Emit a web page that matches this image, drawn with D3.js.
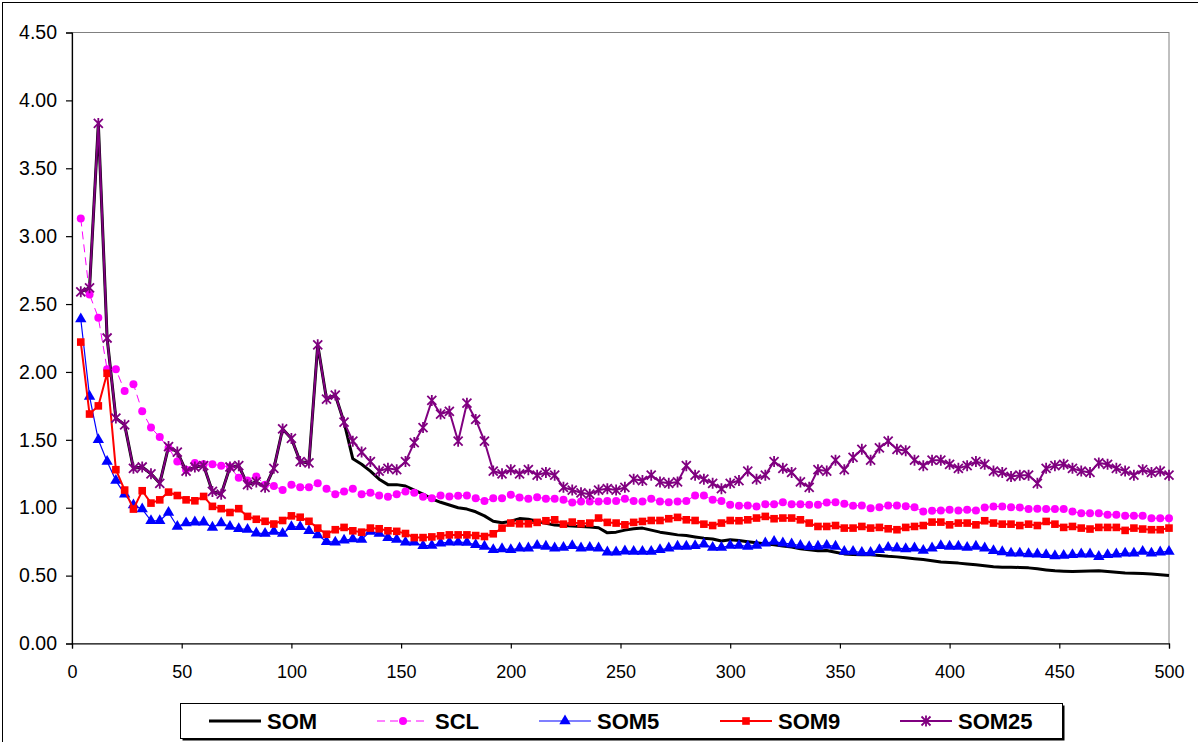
<!DOCTYPE html>
<html>
<head>
<meta charset="utf-8">
<script src="https://cdn.jsdelivr.net/npm/d3@7/dist/d3.min.js"></script>
<style>
  html, body { margin: 0; padding: 0; background: #fff; }
  svg { display: block; font-family: "Liberation Sans", Arial, sans-serif; }
</style>
</head>
<body>
<svg id="chart" width="1198" height="742"></svg>
<script>
"use strict";

// ---------------------------------------------------------------------------
// Error per iteration for five map variants. One sample every 4 iterations,
// x runs 4..500. Values.
// ---------------------------------------------------------------------------

const iterations = d3.range(4, 501, 4);

const som = [
  2.59, 2.62, 3.83, 2.25, 1.66, 1.61, 1.29, 1.30, 1.25, 1.18,
  1.45, 1.41, 1.27, 1.30, 1.31, 1.12, 1.10, 1.30, 1.31, 1.17,
  1.19, 1.15, 1.29, 1.58, 1.51, 1.34, 1.33, 2.20, 1.80, 1.83,
  1.63, 1.36, 1.32, 1.27, 1.21, 1.17, 1.17, 1.16, 1.13, 1.10,
  1.065, 1.04, 1.02, 1.00, 0.99, 0.97, 0.94, 0.90, 0.89, 0.90,
  0.92, 0.915, 0.90, 0.885, 0.872, 0.869, 0.865, 0.862, 0.858, 0.852,
  0.815, 0.82, 0.835, 0.845, 0.85, 0.835, 0.82, 0.81, 0.80, 0.795,
  0.785, 0.776, 0.77, 0.755, 0.764, 0.759, 0.75, 0.742, 0.734, 0.728,
  0.718, 0.71, 0.698, 0.69, 0.683, 0.685, 0.672, 0.66, 0.655, 0.653,
  0.653, 0.648, 0.642, 0.638, 0.632, 0.625, 0.618, 0.61, 0.60, 0.596,
  0.592, 0.586, 0.58, 0.573, 0.566, 0.562, 0.562, 0.56, 0.557, 0.55,
  0.542, 0.535, 0.532, 0.53, 0.532, 0.534, 0.535, 0.53, 0.525, 0.52,
  0.518, 0.516, 0.512, 0.506, 0.50,
];

const scl = [
  3.13, 2.57, 2.40, 2.02, 2.02, 1.86, 1.91, 1.71, 1.59, 1.52,
  1.44, 1.34, 1.28, 1.33, 1.32, 1.32, 1.31, 1.30, 1.22, 1.20,
  1.23, 1.17, 1.16, 1.13, 1.17, 1.15, 1.15, 1.18, 1.14, 1.10,
  1.12, 1.14, 1.10, 1.11, 1.09, 1.08, 1.10, 1.12, 1.11, 1.08,
  1.07, 1.09, 1.083, 1.088, 1.09, 1.07, 1.05, 1.07, 1.07, 1.095,
  1.076, 1.066, 1.078, 1.066, 1.066, 1.058, 1.038, 1.046, 1.046, 1.046,
  1.05, 1.05, 1.066, 1.05, 1.046, 1.066, 1.046, 1.041, 1.046, 1.05,
  1.09, 1.09, 1.058, 1.05, 1.021, 1.014, 1.016, 1.009, 1.026, 1.026,
  1.041, 1.026, 1.026, 1.021, 1.021, 1.038, 1.041, 1.029, 1.014, 1.016,
  0.997, 1.004, 1.016, 1.016, 1.011, 1.004, 0.972, 0.977, 0.98, 0.985,
  0.98, 0.985, 0.98, 1.002, 1.009, 1.009, 1.004, 1.002, 0.99, 0.992,
  0.99, 0.99, 0.99, 0.972, 0.96, 0.96, 0.96, 0.948, 0.948, 0.94,
  0.94, 0.94, 0.923, 0.923, 0.923,
];

const som5 = [
  2.39, 1.82, 1.50, 1.34, 1.20, 1.10, 1.02, 0.99, 0.904, 0.904,
  0.965, 0.862, 0.887, 0.894, 0.894, 0.855, 0.887, 0.862, 0.845, 0.84,
  0.813, 0.81, 0.826, 0.81, 0.86, 0.86, 0.83, 0.80, 0.75, 0.746,
  0.76, 0.77, 0.766, 0.826, 0.81, 0.78, 0.766, 0.746, 0.746, 0.72,
  0.722, 0.739, 0.746, 0.746, 0.744, 0.727, 0.715, 0.69, 0.697, 0.69,
  0.702, 0.702, 0.722, 0.715, 0.702, 0.707, 0.72, 0.702, 0.707, 0.702,
  0.673, 0.673, 0.68, 0.678, 0.678, 0.678, 0.69, 0.702, 0.715, 0.715,
  0.72, 0.732, 0.707, 0.707, 0.722, 0.722, 0.715, 0.722, 0.739, 0.751,
  0.739, 0.732, 0.722, 0.712, 0.715, 0.722, 0.715, 0.678, 0.678, 0.67,
  0.67, 0.69, 0.707, 0.702, 0.697, 0.702, 0.685, 0.702, 0.72, 0.715,
  0.715, 0.707, 0.715, 0.702, 0.683, 0.675, 0.665, 0.665, 0.66, 0.658,
  0.653, 0.645, 0.648, 0.653, 0.658, 0.658, 0.64, 0.653, 0.658, 0.665,
  0.665, 0.678, 0.665, 0.673, 0.678,
];

const som9 = [
  2.22, 1.69, 1.75, 1.99, 1.28, 1.13, 0.99, 1.125, 1.034, 1.058,
  1.115, 1.09, 1.058, 1.051, 1.083, 1.01, 0.993, 0.965, 0.993, 0.936,
  0.915, 0.90, 0.88, 0.906, 0.94, 0.93, 0.90, 0.85, 0.805, 0.838,
  0.855, 0.83, 0.82, 0.85, 0.845, 0.83, 0.826, 0.81, 0.78, 0.78,
  0.785, 0.793, 0.80, 0.80, 0.80, 0.795, 0.788, 0.808, 0.85, 0.887,
  0.882, 0.882, 0.892, 0.904, 0.911, 0.879, 0.894, 0.882, 0.887, 0.924,
  0.892, 0.887, 0.874, 0.892, 0.899, 0.906, 0.906, 0.919, 0.929, 0.911,
  0.906, 0.879, 0.869, 0.887, 0.906, 0.904, 0.911, 0.924, 0.936, 0.919,
  0.924, 0.924, 0.911, 0.887, 0.862, 0.862, 0.869, 0.85, 0.85, 0.862,
  0.85, 0.855, 0.845, 0.838, 0.855, 0.862, 0.869, 0.894, 0.894, 0.874,
  0.887, 0.887, 0.874, 0.904, 0.887, 0.879, 0.879, 0.869, 0.879, 0.869,
  0.899, 0.879, 0.855, 0.862, 0.85, 0.843, 0.855, 0.855, 0.855, 0.833,
  0.85, 0.843, 0.838, 0.838, 0.85,
];

const som25 = [
  2.59, 2.62, 3.83, 2.25, 1.66, 1.61, 1.29, 1.30, 1.25, 1.18,
  1.45, 1.41, 1.27, 1.30, 1.31, 1.12, 1.10, 1.30, 1.31, 1.17,
  1.19, 1.15, 1.29, 1.58, 1.51, 1.34, 1.33, 2.20, 1.80, 1.83,
  1.63, 1.49, 1.41, 1.34, 1.27, 1.29, 1.28, 1.34, 1.48, 1.59,
  1.79, 1.69, 1.71, 1.49, 1.77, 1.65, 1.49, 1.27, 1.25, 1.28,
  1.25, 1.28, 1.24, 1.26, 1.24, 1.15, 1.13, 1.11, 1.10, 1.13,
  1.14, 1.13, 1.15, 1.21, 1.20, 1.24, 1.19, 1.18, 1.19, 1.31,
  1.24, 1.21, 1.18, 1.14, 1.18, 1.20, 1.27, 1.21, 1.24, 1.34,
  1.29, 1.26, 1.19, 1.15, 1.28, 1.27, 1.35, 1.28, 1.37, 1.43,
  1.35, 1.44, 1.49, 1.43, 1.42, 1.35, 1.31, 1.35, 1.35, 1.32,
  1.29, 1.31, 1.34, 1.32, 1.27, 1.26, 1.23, 1.24, 1.24, 1.18,
  1.29, 1.31, 1.32, 1.29, 1.27, 1.26, 1.33, 1.32, 1.29, 1.27,
  1.24, 1.28, 1.26, 1.27, 1.24,
];

const seriesNames = ["SOM", "SCL", "SOM5", "SOM9", "SOM25"];
const xTicks = [0, 50, 100, 150, 200, 250, 300, 350, 400, 450, 500];
const yTicks = [0, 0.5, 1, 1.5, 2, 2.5, 3, 3.5, 4, 4.5];

// Excel-ish look per series; order here is draw order (last on top).
const STYLE = {
  SOM:   { color: "#000000", width: 3, dash: null, marker: "none" },
  SCL:   { color: "#ff00ff", width: 1, dash: "8,5", marker: "circle" },
  SOM5:  { color: "#0000ff", width: 1.2, dash: null, marker: "triangle" },
  SOM9:  { color: "#ff0000", width: 2, dash: null, marker: "square" },
  SOM25: { color: "#800080", width: 2, dash: null, marker: "star" },
};

(function () {
  const values = { SOM: som, SCL: scl, SOM5: som5, SOM9: som9, SOM25: som25 };
  const svg = d3.select("#chart");

  // plot box in page pixels
  const L = 72, R = 1169, T = 32.5, B = 643.5;

  const x = d3.scaleLinear().domain([0, 500]).range([L, R]);
  const y = d3.scaleLinear().domain([0, 4.5]).range([B, T]);

  // outer chart frame (right/bottom edges run off the picture)
  svg.append("rect")
    .attr("x", 2.5).attr("y", 2.5)
    .attr("width", 1210).attr("height", 760)
    .attr("fill", "#fff").attr("stroke", "#000").attr("stroke-width", 1);

  // plot area border: grey top and right
  svg.append("rect")
    .attr("x", L).attr("y", T)
    .attr("width", R - L).attr("height", B - T)
    .attr("fill", "none").attr("stroke", "#808080").attr("stroke-width", 1);

  const yAxis = svg.append("g")
    .attr("transform", `translate(${L},0)`)
    .call(d3.axisLeft(y).tickValues(yTicks).tickFormat(d3.format(".2f"))
      .tickSize(6).tickPadding(9));
  const xAxis = svg.append("g")
    .attr("transform", `translate(0,${B})`)
    .call(d3.axisBottom(x).tickValues(xTicks).tickSize(5).tickPadding(17));

  [yAxis, xAxis].forEach((g) => {
    g.select(".domain").attr("stroke", "#000").attr("stroke-width", 1.2);
    g.selectAll(".tick line").attr("stroke", "#000").attr("stroke-width", 1.2);
    g.selectAll(".tick text")
      .attr("fill", "#000")
      .style("font-family", '"Liberation Sans", Arial, sans-serif')
      .style("font-size", "18px");
  });
  yAxis.selectAll(".tick text").style("font-size", "19.5px");

  // marker drawing, shared by plot and legend
  function addMarker(g, kind, color) {
    if (kind === "circle") {
      g.append("circle").attr("r", 4).attr("fill", color);
    } else if (kind === "triangle") {
      g.append("path").attr("d", d3.symbol(d3.symbolTriangle, 56)()).attr("fill", color);
    } else if (kind === "square") {
      g.append("rect").attr("x", -3.8).attr("y", -3.8).attr("width", 7.6).attr("height", 7.6)
        .attr("fill", color);
    } else if (kind === "star") {
      g.append("path")
        .attr("d", "M0,-5.5V5.5M-4.5,-4.5L4.5,4.5M-4.5,4.5L4.5,-4.5")
        .attr("stroke", color).attr("stroke-width", 1.8).attr("fill", "none");
    }
  }

  const line = d3.line().x((d) => x(d[0])).y((d) => y(d[1]));
  const plot = svg.append("g");

  seriesNames.forEach((name) => {
    const st = STYLE[name];
    const pts = iterations.map((it, i) => [it, values[name][i]]);
    const g = plot.append("g");
    g.append("path")
      .attr("d", line(pts))
      .attr("fill", "none")
      .attr("stroke", st.color)
      .attr("stroke-width", st.width)
      .attr("stroke-linejoin", "round")
      .attr("stroke-dasharray", st.dash);
    if (st.marker === "none") return;
    pts.forEach((p) => {
      const m = g.append("g").attr("transform", `translate(${x(p[0])},${y(p[1])})`);
      addMarker(m, st.marker, st.color);
    });
  });

  // legend box with a little drop shadow
  const lg = svg.append("g");
  const LX = 180.5, LY = 703.5, LW = 882, LH = 35;
  lg.append("rect").attr("x", LX + 2).attr("y", LY + 2).attr("width", LW).attr("height", LH)
    .attr("fill", "#000");
  lg.append("rect").attr("x", LX).attr("y", LY).attr("width", LW).attr("height", LH)
    .attr("fill", "#fff").attr("stroke", "#000").attr("stroke-width", 1);

  const legendX = [209, 377, 539, 720, 900];
  seriesNames.forEach((name, i) => {
    const st = STYLE[name];
    const cy = LY + LH / 2;
    const g = lg.append("g").attr("transform", `translate(${legendX[i]},${cy})`);
    g.append("line").attr("x1", 0).attr("x2", 52)
      .attr("stroke", st.color).attr("stroke-width", st.width)
      .attr("stroke-dasharray", st.dash);
    if (st.marker !== "none") addMarker(g.append("g").attr("transform", "translate(26,0)"), st.marker, st.color);
    g.append("text")
      .attr("x", 58).attr("dy", "0.36em")
      .style("font-size", "22px").style("font-weight", "bold")
      .text(name);
  });
})();
</script>
</body>
</html>
